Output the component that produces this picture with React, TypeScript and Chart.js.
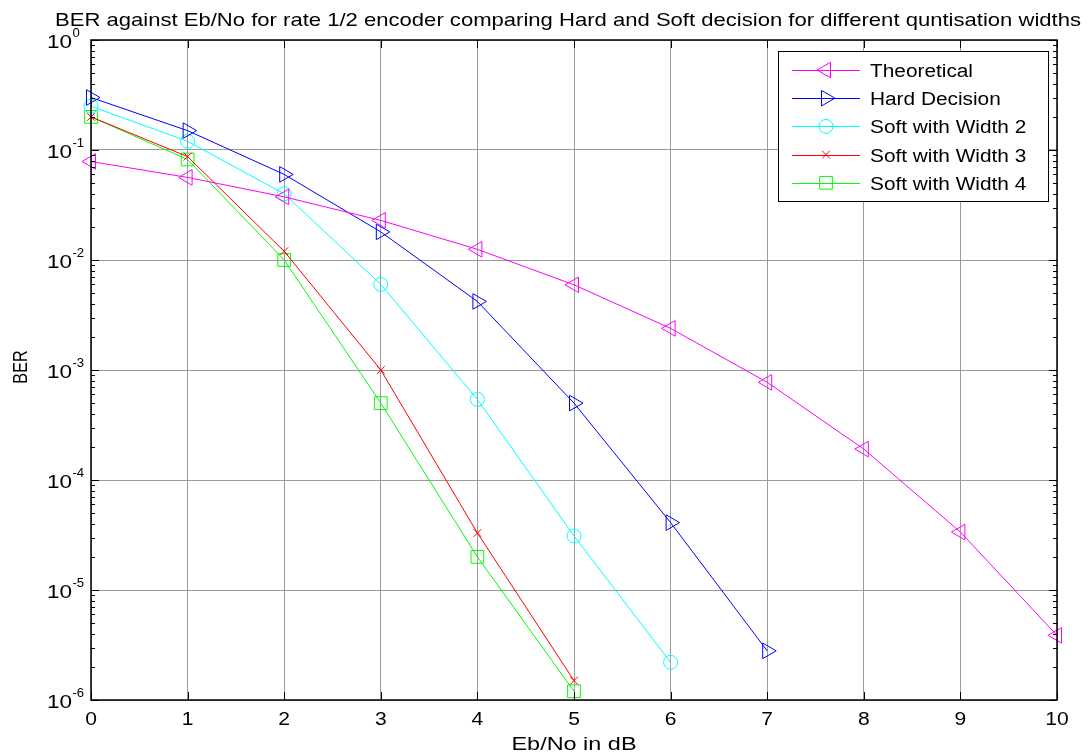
import React, { useEffect, useRef } from "react";
import { Chart, registerables } from "chart.js";
import { drawPoint } from "chart.js/helpers";

Chart.register(...registerables);

// ---- data ----
const ebNo = [0, 1, 2, 3, 4, 5, 6, 7, 8, 9, 10];
const theoretical = [0.0786, 0.0563, 0.0375, 0.0229, 0.0125, 0.00595, 0.00239, 0.000773, 0.000191, 0.0000336, 0.00000387];
const hardDecision = [0.3, 0.15, 0.06, 0.018, 0.0042, 0.0005, 0.000041, 0.0000028];
const softWidth2 = [0.25, 0.12, 0.04, 0.006, 0.00054, 0.000031, 0.0000022];
const softWidth3 = [0.2, 0.087, 0.012, 0.001, 0.000033, 0.0000015];
const softWidth4 = [0.2, 0.082, 0.01, 0.0005, 0.00002, 0.0000012];
const seriesNames = ["Theoretical", "Hard Decision", "Soft with Width 2", "Soft with Width 3", "Soft with Width 4"];
const xTicks = [0, 1, 2, 3, 4, 5, 6, 7, 8, 9, 10];
const yDecades = [0, -1, -2, -3, -4, -5, -6];
const titleText = "BER against Eb/No for rate 1/2 encoder comparing Hard and Soft decision for different quntisation widths";
const xTitle = "Eb/No in dB";
const yTitle = "BER";

const FONT = '"Liberation Sans", Arial, Helvetica, sans-serif';

type Style = { color: string; pointStyle: string; rotation: number; radius: number };
const styles: Style[] = [
  { color: "#ff00ff", pointStyle: "triangle", rotation: -90, radius: 9 },
  { color: "#0000ff", pointStyle: "triangle", rotation: 90, radius: 9 },
  { color: "#00ffff", pointStyle: "circle", rotation: 0, radius: 7 },
  { color: "#ff0000", pointStyle: "crossRot", rotation: 0, radius: 5.5 },
  { color: "#00ff00", pointStyle: "rect", rotation: 0, radius: 9 },
];
const allSeries = [theoretical, hardDecision, softWidth2, softWidth3, softWidth4];

function drawText(
  ctx: CanvasRenderingContext2D, s: string, x: number, y: number, size: number,
  align: CanvasTextAlign, sx = 1, sy = 1, rot = 0, fitWidth?: number
) {
  ctx.save();
  ctx.font = `${size}px ${FONT}`;
  if (fitWidth) sx = fitWidth / ctx.measureText(s).width;
  ctx.translate(x, y);
  ctx.rotate(rot);
  ctx.scale(sx, sy);
  ctx.textAlign = align;
  ctx.textBaseline = "alphabetic";
  ctx.fillStyle = "#000";
  ctx.fillText(s, 0, 0);
  ctx.restore();
}

const decorPlugin = {
  id: "matlabDecor",
  afterDraw(chart: any) {
    const ctx: CanvasRenderingContext2D = chart.ctx;
    const xs = chart.scales.x;
    const ys = chart.scales.y;
    const { left, right, top, bottom } = chart.chartArea;

    // frame
    ctx.save();
    ctx.setLineDash([]);
    ctx.strokeStyle = "#000";
    ctx.lineWidth = 1.5;
    ctx.strokeRect(left, top, right - left, bottom - top);

    // x ticks (inward, top & bottom)
    ctx.lineWidth = 1;
    ctx.beginPath();
    xTicks.forEach((v) => {
      const px = Math.round(xs.getPixelForValue(v)) + 0.5;
      ctx.moveTo(px, bottom);
      ctx.lineTo(px, bottom - 8);
      ctx.moveTo(px, top);
      ctx.lineTo(px, top + 8);
    });
    // y ticks major + minor
    yDecades.forEach((d) => {
      const base = Math.pow(10, d);
      const py = Math.round(ys.getPixelForValue(base)) + 0.5;
      ctx.moveTo(left, py);
      ctx.lineTo(left + 8, py);
      ctx.moveTo(right, py);
      ctx.lineTo(right - 8, py);
      if (d < 0) {
        for (let m = 2; m <= 9; m++) {
          const pm = Math.round(ys.getPixelForValue(m * base)) + 0.5;
          ctx.moveTo(left, pm);
          ctx.lineTo(left + 4, pm);
          ctx.moveTo(right, pm);
          ctx.lineTo(right - 4, pm);
        }
      }
    });
    ctx.stroke();
    ctx.restore();

    // x tick labels
    xTicks.forEach((v) => {
      drawText(ctx, String(v), xs.getPixelForValue(v), bottom + 25, 18, "center", 1.17);
    });
    // y tick labels with superscript exponents
    yDecades.forEach((d) => {
      const py = ys.getPixelForValue(Math.pow(10, d));
      drawText(ctx, "10", left - 19, py + 7.5, 18, "right", 1.25);
      drawText(ctx, String(d), left - 18.5, py - 3, 12.5, "left", 1.05);
    });
    // axis titles
    drawText(ctx, xTitle, (left + right) / 2, 750, 18, "center", 1, 1, 0, 125);
    drawText(ctx, yTitle, 27, (top + bottom) / 2 - 3, 18, "center", 0.9, 1.16, -Math.PI / 2);
    // chart title
    drawText(ctx, titleText, 568, 26, 19, "center", 1, 1, 0, 1026);

    // legend
    const bx = 778, by = 51, bw = 270, bh = 150;
    ctx.save();
    ctx.setLineDash([]);
    ctx.fillStyle = "#fff";
    ctx.fillRect(bx, by, bw, bh);
    ctx.strokeStyle = "#000";
    ctx.lineWidth = 1;
    ctx.strokeRect(bx + 0.5, by + 0.5, bw, bh);
    ctx.restore();
    let legendScale = 1;
    ctx.save();
    ctx.font = `18px ${FONT}`;
    legendScale = 103 / ctx.measureText(seriesNames[0]).width;
    ctx.restore();
    seriesNames.forEach((name, i) => {
      const st = styles[i];
      const cy = by + 19 + i * 28.2;
      ctx.save();
      ctx.setLineDash([]);
      ctx.strokeStyle = st.color;
      ctx.fillStyle = "rgba(0,0,0,0)";
      ctx.lineWidth = 1;
      ctx.beginPath();
      ctx.moveTo(792, Math.round(cy) + 0.5);
      ctx.lineTo(860, Math.round(cy) + 0.5);
      ctx.stroke();
      ctx.beginPath();
      drawPoint(ctx, { pointStyle: st.pointStyle, rotation: st.rotation, radius: st.radius, borderWidth: 1 } as any, 826, cy);
      ctx.restore();
      drawText(ctx, name, 870, cy + 7, 18, "left", legendScale);
    });
  },
};

export default function App() {
  const ref = useRef<HTMLCanvasElement>(null);
  useEffect(() => {
    document.body.style.margin = "0";
    const datasets = allSeries.map((vals, i) => ({
      label: seriesNames[i],
      data: vals.map((v, j) => ({ x: ebNo[j], y: v })),
      borderColor: styles[i].color,
      backgroundColor: "rgba(0,0,0,0)",
      borderWidth: 1,
      pointStyle: styles[i].pointStyle,
      rotation: styles[i].rotation,
      pointRadius: styles[i].radius,
      pointBorderColor: styles[i].color,
      pointBackgroundColor: "rgba(0,0,0,0)",
      pointBorderWidth: 1,
      tension: 0,
      fill: false,
      clip: false as any,
    }));
    const chart = new Chart(ref.current!, {
      type: "line",
      data: { datasets },
      plugins: [decorPlugin],
      options: {
        animation: false,
        responsive: false,
        devicePixelRatio: 1,
        layout: { padding: { left: 91, right: 34, top: 40, bottom: 56 } },
        plugins: { legend: { display: false }, title: { display: false }, tooltip: { enabled: false } },
        events: [],
        scales: {
          x: {
            type: "linear",
            min: 0,
            max: 10,
            afterBuildTicks: (s: any) => { s.ticks = xTicks.map((v) => ({ value: v })); },
            afterFit: (s: any) => { s.height = 0; },
            ticks: { display: false },
            grid: { color: "#9a9a9a", drawTicks: false, lineWidth: 1 },
            border: { display: false },
            title: { display: false },
          },
          y: {
            type: "logarithmic",
            min: 1e-6,
            max: 1,
            afterBuildTicks: (s: any) => { s.ticks = yDecades.map((d) => ({ value: Math.pow(10, d), major: true })); },
            afterFit: (s: any) => { s.width = 0; },
            ticks: { display: false },
            grid: { color: "#9a9a9a", drawTicks: false, lineWidth: 1 },
            border: { display: false },
            title: { display: false },
          },
        },
      } as any,
    });
    return () => chart.destroy();
  }, []);
  return (
    <div style={{ width: 1091, height: 756 }}>
      <canvas ref={ref} width={1091} height={756} style={{ display: "block", width: 1091, height: 756 }} />
    </div>
  );
}
